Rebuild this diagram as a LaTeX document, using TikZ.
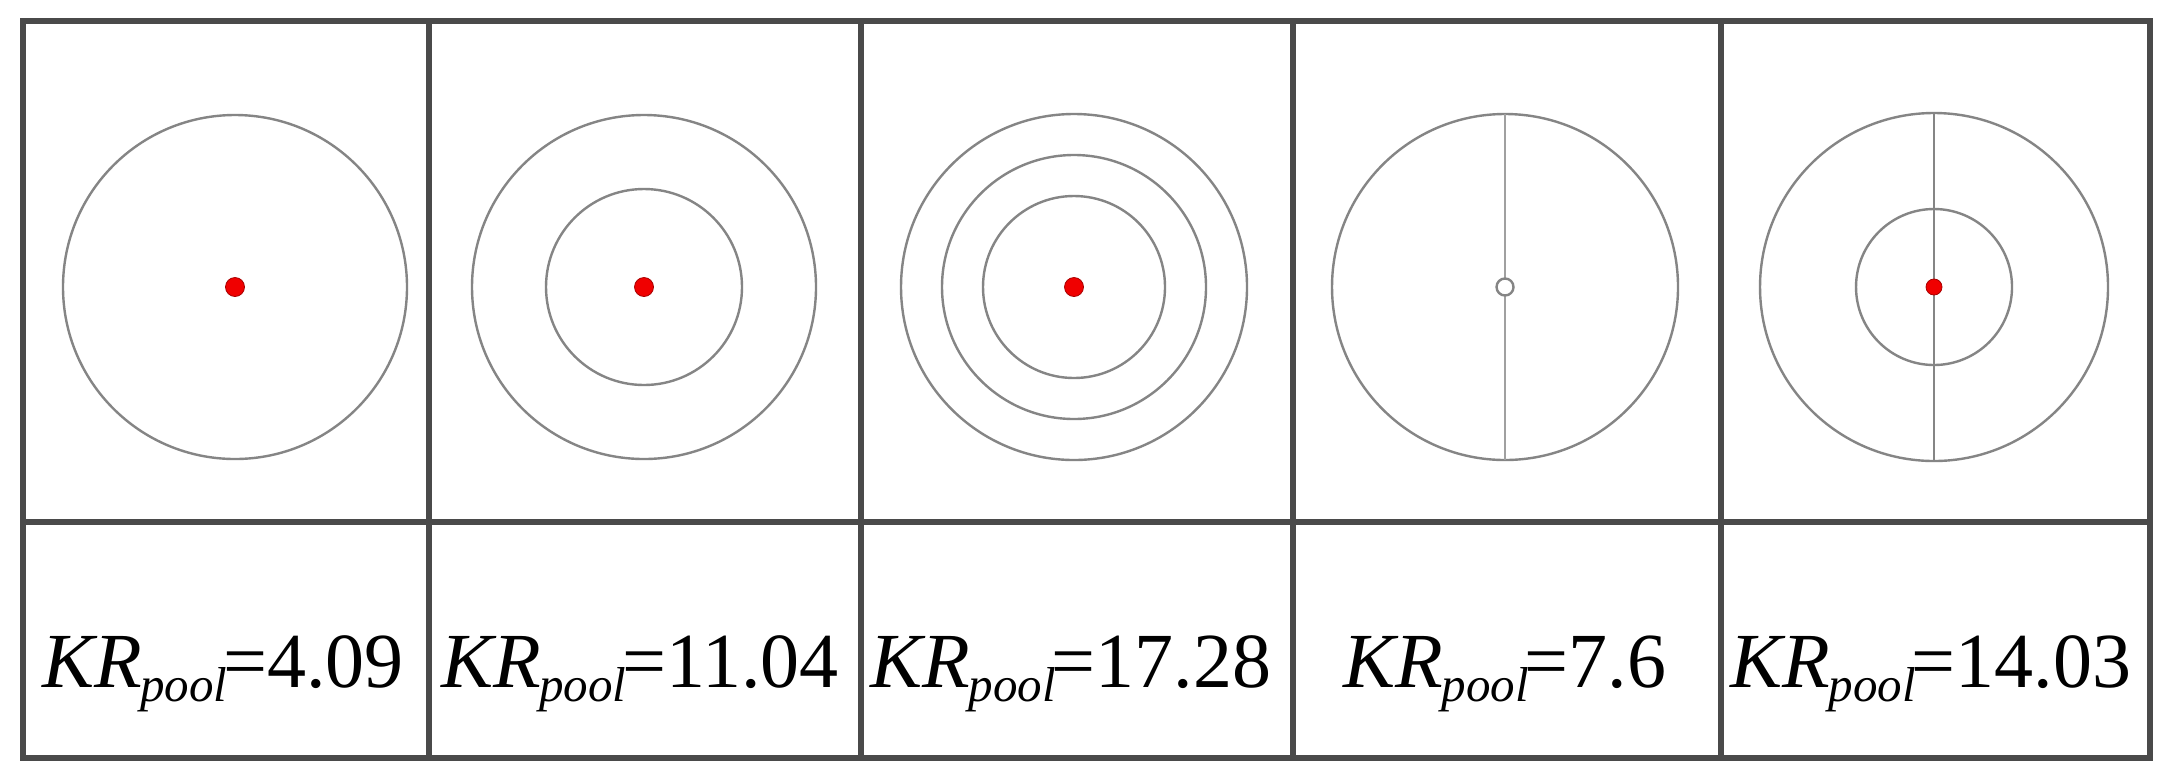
\documentclass[tikz,border=0pt]{standalone}
\usepackage{fontspec}
\setmainfont{Liberation Serif}
\definecolor{frame}{HTML}{4A4A4A}
\definecolor{ring}{HTML}{858585}
\definecolor{lightring}{HTML}{A0A0A0}
\definecolor{dotred}{HTML}{F00000}
\tikzset{
  frameline/.style={draw=frame, line width=3.2pt},
  ringline/.style={draw=ring, line width=1.2pt},
  reddot/.style={fill=dotred, draw=dotred!70!black, line width=0.4pt},
  krlabel/.style={font=\fontsize{39}{39}\selectfont, inner sep=0pt, anchor=base},
}
\newcommand{\KRp}[1]{\textit{KR}\kern-0.02em\raisebox{-0.18em}{\fontsize{24.5}{24.5}\selectfont\textit{pool}}\kern-0.05em=#1}
\begin{document}
\begin{tikzpicture}[x=0.5pt,y=-0.5pt]
\useasboundingbox (0,0) rectangle (2171,778);
\fill[white] (0,0) rectangle (2171,778);
% panel 1
\coordinate (c1) at (235,287);
\draw[ringline] (c1) circle[radius=172];
\fill[reddot] (c1) circle[radius=9.5];
% panel 2
\coordinate (c2) at (644,287);
\draw[ringline] (c2) circle[radius=172];
\draw[ringline] (c2) circle[radius=98];
\fill[reddot] (c2) circle[radius=9.5];
% panel 3
\coordinate (c3) at (1074,287);
\draw[ringline] (c3) circle[radius=173];
\draw[ringline] (c3) circle[radius=132];
\draw[ringline] (c3) circle[radius=91];
\fill[reddot] (c3) circle[radius=9.5];
% panel 4
\coordinate (c4) at (1505,287);
\coordinate (c4t) at (1505,114);
\coordinate (c4b) at (1505,460);
\draw[ringline] (c4) circle[radius=173];
\draw[ringline, draw=lightring, line width=1.4pt] (c4t) -- (c4b);
\draw[ringline, fill=white] (c4) circle[radius=8.5];
% panel 5
\coordinate (c5) at (1934,287);
\coordinate (c5t) at (1934,113);
\coordinate (c5b) at (1934,461);
\draw[ringline] (c5) circle[radius=174];
\draw[ringline] (c5) circle[radius=78];
\draw[ringline] (c5t) -- (c5b);
\fill[reddot] (c5) circle[radius=8];
% frame
\draw[frameline] (23,21) rectangle (2150,758);
\draw[frameline] (23,522) -- (2150,522);
\foreach \x in {429,861,1293,1721} \draw[frameline] (\x,21) -- (\x,758);
% labels
\node[krlabel] (l1) at (223,687) {\KRp{4.09}};
\node[krlabel] (l2) at (640,687) {\KRp{11.04}};
\node[krlabel] (l3) at (1071,687) {\KRp{17.28}};
\node[krlabel] (l4) at (1505,687) {\KRp{7.6}};
\node[krlabel] (l5) at (1931,687) {\KRp{14.03}};
\end{tikzpicture}
\end{document}
